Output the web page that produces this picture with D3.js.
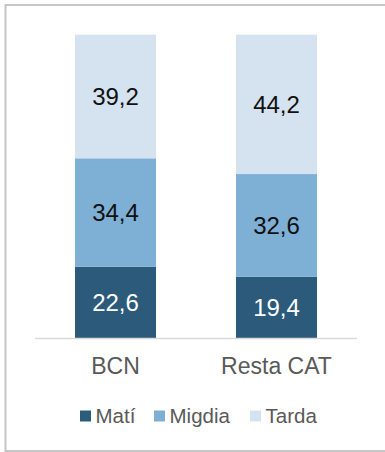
<!DOCTYPE html>
<html>
<head>
<meta charset="utf-8">
<script src="https://cdn.jsdelivr.net/npm/d3@7"></script>
<style>
  html, body { margin: 0; padding: 0; background: #fff; }
  svg { display: block; font-family: "Liberation Sans", Arial, sans-serif; }
</style>
</head>
<body>
<svg id="chart" width="385" height="452"></svg>
<script>
// Share of activity by time of day (%)
const categories = ["BCN", "Resta CAT"];
const seriesNames = ["Matí", "Migdia", "Tarda"];
const mati   = [22.6, 19.4];
const migdia = [34.4, 32.6];
const tarda  = [39.2, 44.2];
const colors = ["#2c5a7b", "#7eafd4", "#d5e3f0"];
const labelColors = ["#ffffff", "#111111", "#111111"];

const rows = categories.map((c, i) => ({
  cat: c, "Matí": mati[i], "Migdia": migdia[i], "Tarda": tarda[i]
}));

const svg = d3.select("#chart");
const W = 385, H = 452;

// outer frame (right edge falls outside the canvas)
svg.append("rect")
  .attr("x", 5.5).attr("y", 5).attr("width", W + 10).attr("height", H - 6)
  .attr("fill", "#fff").attr("stroke", "#c6c6c6").attr("stroke-width", 2);

const plot = { left: 35, right: 357, top: 34.7, bottom: 338 };

const x = d3.scaleBand()
  .domain(categories)
  .range([plot.left, plot.right])
  .paddingInner(0.497)
  .paddingOuter(0.2485);

const maxTotal = d3.max(rows, r => r["Matí"] + r["Migdia"] + r["Tarda"]);
const y = d3.scaleLinear().domain([0, maxTotal]).range([plot.bottom, plot.top]);

const stacked = d3.stack().keys(seriesNames)(rows);

const g = svg.append("g");
stacked.forEach((layer, li) => {
  const lg = g.append("g");
  lg.selectAll("rect").data(layer).join("rect")
    .attr("x", d => x(d.data.cat))
    .attr("width", x.bandwidth())
    .attr("y", d => y(d[1]))
    .attr("height", d => y(d[0]) - y(d[1]))
    .attr("fill", colors[li]);
  lg.selectAll("text").data(layer).join("text")
    .attr("x", d => x(d.data.cat) + x.bandwidth() / 2)
    .attr("y", d => (y(d[0]) + y(d[1])) / 2)
    .attr("dy", "0.36em")
    .attr("text-anchor", "middle")
    .attr("font-size", 24)
    .attr("fill", labelColors[li])
    .text(d => d3.format(".1f")(d[1] - d[0]).replace(".", ","));
});

// category axis
const xAxis = svg.append("g")
  .attr("transform", `translate(0,${plot.bottom})`)
  .call(d3.axisBottom(x).tickSize(0).tickPadding(20));
xAxis.select(".domain")
  .attr("d", `M${plot.left},0.5H${plot.right}`)
  .attr("stroke", "#d9d9d9").attr("stroke-width", 1.6);
xAxis.selectAll(".tick text")
  .attr("font-size", 23)
  .attr("font-family", "Liberation Sans, Arial, sans-serif")
  .attr("fill", "#595959");

// legend
const legendItems = [
  { name: seriesNames[0], color: colors[0], x: 80 },
  { name: seriesNames[1], color: colors[1], x: 154 },
  { name: seriesNames[2], color: colors[2], x: 250 }
];
const lg = svg.append("g").attr("transform", "translate(0,416)");
const li = lg.selectAll("g").data(legendItems).join("g")
  .attr("transform", d => `translate(${d.x},0)`);
li.append("rect")
  .attr("x", 0).attr("y", -5.5).attr("width", 11).attr("height", 11)
  .attr("fill", d => d.color);
li.append("text")
  .attr("x", 15.5).attr("dy", "0.36em")
  .attr("font-size", 20.5)
  .attr("fill", "#595959")
  .text(d => d.name);
</script>
</body>
</html>
